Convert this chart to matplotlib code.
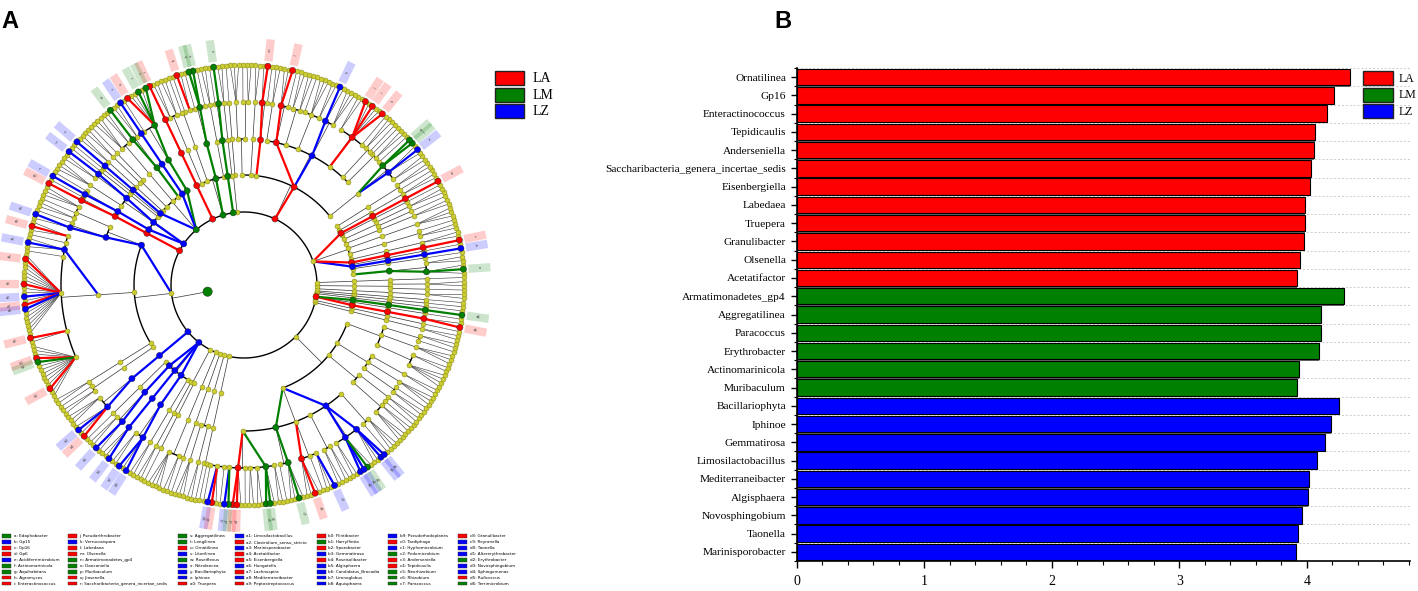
import numpy as np
import matplotlib
matplotlib.use("Agg")
import matplotlib.pyplot as plt
from matplotlib.patches import Rectangle
from matplotlib.ticker import MultipleLocator

# ---------------- panel B: LDA scores ----------------
genera_b = ['Ornatilinea', 'Gp16', 'Enteractinococcus', 'Tepidicaulis', 'Anderseniella',
            'Saccharibacteria_genera_incertae_sedis', 'Eisenbergiella', 'Labedaea', 'Truepera',
            'Granulibacter', 'Olsenella', 'Acetatifactor',
            'Armatimonadetes_gp4', 'Aggregatilinea', 'Paracoccus', 'Erythrobacter',
            'Actinomarinicola', 'Muribaculum',
            'Bacillariophyta', 'Iphinoe', 'Gemmatirosa', 'Limosilactobacillus',
            'Mediterraneibacter', 'Algisphaera', 'Novosphingobium', 'Taonella', 'Marinisporobacter']
lda_b = [4.34, 4.21, 4.155, 4.066, 4.06, 4.03, 4.023, 3.987, 3.987, 3.977, 3.95, 3.92,
         4.29, 4.115, 4.11, 4.095, 3.942, 3.92,
         4.249, 4.19, 4.14, 4.08, 4.017, 4.01, 3.96, 3.934, 3.917]
group_b = ['LA'] * 12 + ['LM'] * 6 + ['LZ'] * 9

groups = ['LA', 'LM', 'LZ']
group_colors = ['#ff0000', '#008000', '#0000ff']

# ---------------- panel A: cladogram ----------------
# phylum -> class -> order -> family ; a family is given as its number of genera
tree = [
    [[[3, 2]], [[1]], [[1]], [[1]], [[1]], [[2]], [[2, 1]], [[3]], [[2]], [[1], [2]],
     [[1]], [[1]], [[2]], [[1, 2]]],                                     # Acidobacteria
    [[[2, 3, 2, 1]],
     [[2, 1], [1, 2], [1, 6, 2], [3, 2], [2, 3, 1], [2, 2], [1, 3], [2]],
     [[1, 2]], [[2]], [[2, 1], [3]]],                                    # Actinobacteria
    [[[1]], [[2]]],
    [[[1, 1]]],                                                          # Armatimonadetes
    [[[2]], [[1, 2, 1, 2]], [[1, 1]], [[2, 2]]],                         # Bacteroidetes
    [[[1]]],                                                             # Saccharibacteria
    [[[6, 1]], [[1]], [[2, 1]], [[2, 3]], [[1], [2]], [[2]], [[1]], [[1]]],  # Chloroflexi
    [[[1]], [[1, 2], [3]], [[1, 1]]],                                    # Cyanobacteria
    [[[1, 1]]],                                                          # Deinococcus-Thermus
    [[[3, 1, 2], [1, 2]], [[3, 1, 3, 1, 20, 2, 14]], [[2]], [[1, 2]]],   # Firmicutes
    [[[3, 4]]],                                                          # Gemmatimonadetes
    [[[1]], [[2, 2]], [[3]], [[2, 3]], [[2]]],                           # Planctomycetes
    [[[2]], [[1]]],
    [[[4, 2]]],
    [[[1]]],
    [[[3], [2]]],
    [[[1, 1]]],
    [[[1, 3, 1, 2, 3, 1, 2, 2, 3, 2], [1, 4], [4, 1, 3], [2, 2], [2, 4, 4], [1, 3]],
     [[3, 2, 1], [2]], [[2, 1], [3], [2]], [[4, 2], [3], [1, 2]]],       # Proteobacteria
    [[[2]]],
    [[[1]]],
    [[[2]], [[1]], [[1]]],                                               # Verrucomicrobia
    [[[1]]], [[[1]]], [[[1]]], [[[2]]], [[[1], [2]]], [[[1]]],
]

# higher ranks that are biomarkers
clade_marks = [
    ('', 'LM'),
    ('0.0.0', 'LM'), ('0.0.0.0', 'LM'),
    ('0.2', 'LZ'), ('0.2.0', 'LZ'), ('0.2.0.0', 'LZ'),
    ('0.4', 'LA'), ('0.4.0', 'LA'), ('0.4.0.0', 'LA'),
    ('0.11', 'LA'), ('0.11.0', 'LA'), ('0.11.0.0', 'LA'),
    ('1', 'LA'), ('1.1', 'LA'), ('1.0.0.1', 'LZ'), ('1.0.0.2', 'LM'), ('1.1.2.1', 'LA'),
    ('1.1.3', 'LZ'), ('1.1.3.1', 'LZ'), ('1.1.6', 'LA'), ('1.1.6.1', 'LA'),
    ('1.2.0', 'LA'), ('1.2.0.1', 'LA'),
    ('3', 'LM'), ('3.0', 'LM'), ('3.0.0', 'LM'), ('3.0.0.0', 'LM'),
    ('4', 'LM'), ('4.1', 'LM'), ('4.1.0', 'LM'), ('4.1.0.1', 'LM'),
    ('5', 'LA'), ('5.0', 'LA'), ('5.0.0', 'LA'), ('5.0.0.0', 'LA'),
    ('6', 'LM'), ('6.0', 'LM'), ('6.0.0', 'LM'), ('6.0.0.0', 'LM'),
    ('6.1', 'LZ'), ('6.1.0', 'LZ'), ('6.1.0.0', 'LZ'),
    ('6.2.0', 'LM'), ('6.2.0.1', 'LM'),
    ('6.6', 'LZ'), ('6.6.0', 'LZ'), ('6.6.0.0', 'LZ'),
    ('7', 'LZ'), ('7.1', 'LZ'), ('7.1.0', 'LZ'), ('7.1.0.0', 'LZ'),
    ('7.2', 'LZ'), ('7.2.0', 'LZ'), ('7.2.0.1', 'LZ'),
    ('8', 'LA'), ('8.0', 'LA'), ('8.0.0', 'LA'), ('8.0.0.1', 'LA'),
    ('9.0', 'LZ'), ('9.0.1', 'LZ'), ('9.0.1.1', 'LZ'), ('9.1.0.2', 'LZ'),
    ('10', 'LZ'), ('10.0', 'LZ'), ('10.0.0', 'LZ'), ('10.0.0.1', 'LZ'),
    ('11', 'LZ'), ('11.1', 'LZ'), ('11.1.0', 'LZ'), ('11.1.0.1', 'LZ'),
    ('11.2', 'LZ'), ('11.2.0', 'LZ'), ('11.2.0.0', 'LZ'),
    ('11.3', 'LZ'), ('11.3.0', 'LZ'), ('11.3.0.1', 'LZ'),
    ('17.0.0.4', 'LA'), ('17.0.0.8', 'LM'), ('17.0.1', 'LM'), ('17.0.1.1', 'LM'),
    ('17.0.2.0', 'LA'), ('17.0.4', 'LZ'), ('17.0.4.1', 'LZ'), ('17.0.4.2', 'LZ'),
    ('20', 'LA'), ('20.0', 'LA'), ('20.0.0', 'LA'), ('20.0.0.0', 'LA'),
    ('20.2', 'LM'), ('20.2.0', 'LM'), ('20.2.0.0', 'LM'),
]

# genus biomarkers, in legend order
marker_names = ['Edaphobacter', 'Gp15', 'Gp16', 'Gp6', 'Acidiferrimicrobium', 'Actinomarinicola',
                'Aquihabitans', 'Agromyces', 'Enteractinococcus', 'Pseudarthrobacter', 'Verrucosispora',
                'Labedaea', 'Olsenella', 'Armatimonadetes_gp4', 'Dancaniella', 'Muribaculum',
                'Jiasenella', 'Saccharibacteria_genera_incertae_sedis', 'Aggregatilinea', 'Longilinea',
                'Ornatilinea', 'Litorilinea', 'Roseiflexus', 'Nitrolancea', 'Bacillariophyta', 'Iphinoe',
                'Truepera', 'Limosilactobacillus', 'Clostridium_sensu_stricto', 'Marinisporobacter',
                'Acetatifactor', 'Eisenbergiella', 'Hungatella', 'Lachnospira', 'Mediterraneibacter',
                'Peptostreptococcus', 'Flintibacter', 'Harryflintia', 'Sporobacter', 'Gemmatirosa',
                'Roseisolibacter', 'Algisphaera', 'Candidatus_Brocadia', 'Limnoglobus', 'Aquisphaera',
                'Pseudorhodoplanes', 'Tardiphaga', 'Hyphomicrobium', 'Pedomicrobium', 'Anderseniella',
                'Tepidicaulis', 'Neorhizobium', 'Rhizobium', 'Paracoccus', 'Granulibacter', 'Reyranella',
                'Taonella', 'Altererythrobacter', 'Erythrobacter', 'Novosphingobium', 'Sphingomonas',
                'Ruficoccus', 'Terrimicrobium']
marker_paths = ['0.0.0.0.1', '0.2.0.0.0', '0.4.0.0.0', '0.11.0.0.0', '1.0.0.1.1', '1.0.0.2.0',
                '1.0.0.2.1', '1.1.2.1.0', '1.1.2.1.3', '1.1.2.1.5', '1.1.3.1.1', '1.1.6.1.0',
                '1.2.0.1.0', '3.0.0.0.0', '4.1.0.1.0', '4.1.0.1.1', '4.1.0.3.1', '5.0.0.0.0',
                '6.0.0.0.0', '6.0.0.0.2', '6.0.0.0.5', '6.1.0.0.0', '6.2.0.1.0', '6.6.0.0.0',
                '7.1.0.0.0', '7.2.0.1.0', '8.0.0.1.0', '9.0.1.1.0', '9.1.0.0.1', '9.1.0.2.1',
                '9.1.0.4.1', '9.1.0.4.7', '9.1.0.4.10', '9.1.0.4.12', '9.1.0.4.13', '9.1.0.5.0',
                '9.1.0.6.3', '9.1.0.6.4', '9.1.0.6.11', '10.0.0.1.1', '10.0.0.1.3', '11.1.0.1.0',
                '11.2.0.0.2', '11.3.0.1.0', '11.3.0.1.2', '17.0.0.1.0', '17.0.0.1.1', '17.0.0.3.0',
                '17.0.0.3.1', '17.0.0.4.0', '17.0.0.4.1', '17.0.0.8.0', '17.0.0.8.1', '17.0.1.1.2',
                '17.0.2.0.2', '17.0.2.2.2', '17.0.4.1.0', '17.0.4.1.1', '17.0.4.1.2', '17.0.4.2.2',
                '17.0.4.2.3', '20.0.0.0.0', '20.2.0.0.0']
marker_groups = ['LM', 'LZ', 'LA', 'LA', 'LZ', 'LM', 'LM', 'LA', 'LA', 'LA', 'LZ', 'LA', 'LA',
                 'LM', 'LM', 'LM', 'LA', 'LA', 'LM', 'LM', 'LA', 'LZ', 'LM', 'LZ', 'LZ', 'LZ',
                 'LA', 'LZ', 'LA', 'LZ', 'LA', 'LA', 'LZ', 'LA', 'LZ', 'LA', 'LA', 'LM', 'LA',
                 'LZ', 'LA', 'LZ', 'LZ', 'LZ', 'LZ', 'LZ', 'LA', 'LZ', 'LM', 'LA', 'LA', 'LM',
                 'LM', 'LM', 'LA', 'LZ', 'LZ', 'LZ', 'LM', 'LZ', 'LZ', 'LA', 'LM']

col = dict(zip(groups, group_colors))
serif = 'Liberation Serif'


def parse(p):
    return tuple(int(v) for v in p.split('.')) if p else ()


# ---- layout of the tree (leaves evenly spaced, counter-clockwise) ----
radii = [37, 73, 110, 146, 183, 220]
cx, cy = 244, 285
theta0 = 2.5


def n_leaves(item, level):
    if level == 4:
        return item
    return sum(n_leaves(s, level + 1) for s in item)


step = 360.0 / n_leaves(tree, 0)
angle = {}
children = {}
counter = [0]


def build(item, path, level):
    if level == 4:
        kids = []
        for g in range(item):
            gp = path + (g,)
            angle[gp] = theta0 + (counter[0] + 0.5) * step
            children[gp] = []
            counter[0] += 1
            kids.append(gp)
    else:
        kids = [build(s, path + (j,), level + 1) for j, s in enumerate(item)]
    a = [angle[k] for k in kids]
    angle[path] = (min(a) + max(a)) / 2
    children[path] = kids
    return path


build(tree, (), 0)


def xy(r, ang):
    t = np.deg2rad(ang)
    return cx + r * np.cos(t), cy - r * np.sin(t)


mark = {parse(p): g for p, g in clade_marks}
for p, g in zip(marker_paths, marker_groups):
    mark[parse(p)] = g

fig = plt.figure(figsize=(14.18, 5.91), dpi=100)
axA = fig.add_axes([0, 0, 600 / 1418, 1])
axA.set_xlim(0, 600)
axA.set_ylim(591, 0)
axA.axis('off')

# black skeleton
for path, kids in children.items():
    if not kids:
        continue
    lev = len(path)
    r0, r1 = radii[lev], radii[lev + 1]
    a0 = angle[path]
    if lev < 4:
        p0, p1 = xy(r0, a0), xy(r1, a0)
        axA.plot([p0[0], p1[0]], [p0[1], p1[1]], color='#333333', lw=0.5, zorder=1)
        if lev == 0:
            lo, hi = 0, 360
        else:
            lo, hi = min(angle[k] for k in kids), max(angle[k] for k in kids)
        t = np.linspace(lo, hi, max(2, int((hi - lo) * 3)))
        ax_, ay_ = xy(r1, t)
        axA.plot(ax_, ay_, color='black', lw=1.0, zorder=1)
    else:
        p0 = xy(r0, a0)
        for k in kids:
            p1 = xy(r1, angle[k])
            axA.plot([p0[0], p1[0]], [p0[1], p1[1]], color='#333333', lw=0.4, zorder=1)

# coloured biomarker branches
for path, g in mark.items():
    if len(path) < 2:
        continue
    par = path[:-1]
    p0 = xy(radii[len(par)], angle[par])
    p1 = xy(radii[len(path)], angle[path])
    axA.plot([p0[0], p1[0]], [p0[1], p1[1]], color=col[g], lw=1.6, zorder=2)

# nodes
yel = [p for p in angle if p not in mark]
pts = np.array([xy(radii[len(p)], angle[p]) for p in yel])
axA.scatter(pts[:, 0], pts[:, 1], s=13, facecolor='#cccc33', edgecolor='#7a7a10',
            linewidths=0.3, zorder=3)
for g in groups:
    sel = [p for p, gg in mark.items() if gg == g]
    pts = np.array([xy(radii[len(p)], angle[p]) for p in sel])
    sizes = [45 if len(p) == 0 else 20 for p in sel]
    axA.scatter(pts[:, 0], pts[:, 1], s=sizes, facecolor=col[g], edgecolor='#222222',
                linewidths=0.3, zorder=4)

# genus labels around the ring
codes = list('abcdefghijklmnopqrstuvwxyz') + [f'{c}{d}' for c in 'abcd' for d in range(10)]
codes = codes[:len(marker_names)]
for code, p, g in zip(codes, marker_paths, marker_groups):
    a = angle[parse(p)]
    q0, q1 = xy(225, a), xy(247, a)
    axA.plot([q0[0], q1[0]], [q0[1], q1[1]], color=col[g], alpha=0.2, lw=6,
             solid_capstyle='butt', zorder=1)
    rot = a % 360
    if 90 < rot < 270:
        rot -= 180
    tx, ty = xy(236, a)
    axA.text(tx, ty, code, fontsize=2.6, color='#444444', rotation=rot,
             ha='center', va='center', rotation_mode='anchor', zorder=5)

# group legend of panel A
for i, g in enumerate(groups):
    axA.add_patch(Rectangle((495, 71 + 16.7 * i), 29, 14, facecolor=col[g],
                            edgecolor='#222222', lw=1.0, zorder=5))
    axA.text(533, 78.5 + 16.7 * i, g, fontsize=10, family=serif, va='center', ha='left')

# code legend at the bottom
leg_x = [2, 68, 178, 235, 317, 388, 458]
for i, (code, name, g) in enumerate(zip(codes, marker_names, marker_groups)):
    c, r = divmod(i, 9)
    x, y = leg_x[c], 536 + 5.95 * r
    axA.add_patch(Rectangle((x, y - 1.8), 9, 3.6, facecolor=col[g], edgecolor='#333333',
                            lw=0.3, zorder=5))
    axA.text(x + 11.5, y, f'{code}: {name}', fontsize=3.0, va='center', ha='left')

# ---------------- panel B ----------------
axB = fig.add_axes([797 / 1418, 30 / 591, 613 / 1418, 493 / 591])
ypos = np.arange(len(genera_b))
bar_cols = [col[g] for g in group_b]
axB.barh(ypos + 0.08, lda_b, height=0.9, color='#666666', zorder=2)
axB.barh(ypos, lda_b, height=0.9, color=bar_cols, edgecolor='black', linewidth=0.8, zorder=3)
axB.set_ylim(len(genera_b) - 0.5, -0.5)
axB.set_xlim(0, 4.81)
axB.set_yticks(ypos)
axB.set_yticklabels(genera_b, fontsize=8.2, family=serif)
axB.set_yticks(np.arange(-0.5, len(genera_b)), minor=True)
axB.xaxis.set_major_locator(MultipleLocator(1))
axB.xaxis.set_minor_locator(MultipleLocator(0.2))
for lab in axB.get_xticklabels():
    lab.set_family(serif)
    lab.set_fontsize(10)
axB.tick_params(axis='y', which='major', length=4, width=1.0, pad=4)
axB.tick_params(axis='y', which='minor', length=2, width=0.8)
axB.tick_params(axis='x', which='major', length=5, width=1.0, pad=5)
axB.tick_params(axis='x', which='minor', length=3, width=0.8)
axB.grid(axis='y', which='minor', linestyle=(0, (2, 2)), color='#cccccc', lw=0.7, zorder=0)
axB.grid(axis='x', visible=False)
for s in ['top', 'right']:
    axB.spines[s].set_visible(False)
for s in ['left', 'bottom']:
    axB.spines[s].set_linewidth(1.2)

# overlay for panel letters and the legend of panel B
ov = fig.add_axes([0, 0, 1, 1], zorder=10)
ov.set_xlim(0, 1418)
ov.set_ylim(591, 0)
ov.axis('off')
ov.patch.set_visible(False)
for i, g in enumerate(groups):
    ov.add_patch(Rectangle((1363, 71 + 16.7 * i), 30, 14, facecolor=col[g],
                           edgecolor='#222222', lw=1.0))
    ov.text(1399, 78.5 + 16.7 * i, g, fontsize=8.5, family=serif, va='center', ha='left')
ov.text(1, 10, 'A', fontsize=17, fontweight='bold', family='Liberation Sans', va='top', ha='left')
ov.text(774, 10, 'B', fontsize=17, fontweight='bold', family='Liberation Sans', va='top', ha='left')

fig.savefig('out.png', dpi=100)
